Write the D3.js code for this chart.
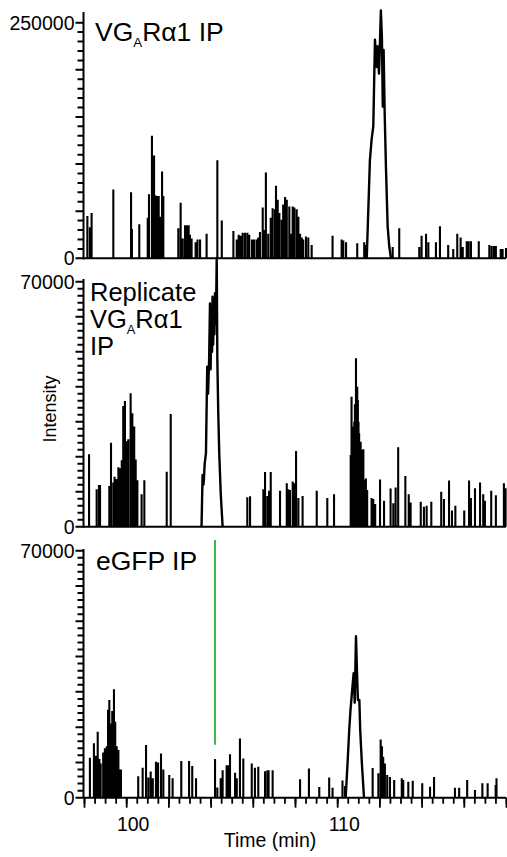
<!DOCTYPE html>
<html>
<head>
<meta charset="utf-8">
<script src="https://cdn.jsdelivr.net/npm/d3@7"></script>
<style>
  body { margin: 0; background: #fff; }
  text { font-family: "Liberation Sans", Arial, Helvetica, sans-serif; fill: #000; }
</style>
</head>
<body>
<svg id="chart"></svg>
<script>
// time axis (min)
const timeDomain = [98, 118]
const timeLabels = [100, 110]

// VGARa1 IP: isolated spikes [time, intensity] and the main peak trace
const topSpikes = [
  [98.16,45000],[98.28,33000],[98.36,48000],[99.39,73000],[100.23,70000],[100.27,31000],[100.62,36000],
  [101.02,43000],[101.08,68000],[101.22,130000],[101.32,109000],[101.38,67000],[101.45,66000],[101.54,66000],
  [101.60,44000],[101.70,92000],[101.76,66000],[102.47,32000],[102.58,59000],[102.68,21000],[102.79,35000],
  [102.87,35000],[102.96,35000],[103.02,25000],[103.10,21000],[103.29,17000],[103.38,20000],[103.50,20000],
  [103.81,26000],[104.32,104000],[104.53,40000],[105.08,29000],[105.24,20000],[105.33,25000],[105.43,24000],
  [105.52,27000],[105.63,27000],[105.74,27000],[105.83,25000],[105.96,20000],[106.06,20000],[106.18,20000],
  [106.26,22000],[106.34,28000],[106.47,54000],[106.53,30000],[106.62,91000],[106.73,26000],[106.85,43000],
  [106.94,53000],[107.05,52000],[107.10,77000],[107.18,62000],[107.26,48000],[107.37,41000],[107.44,57000],
  [107.53,65000],[107.61,62000],[107.73,55000],[107.79,26000],[107.89,55000],[107.97,54000],[108.08,52000],
  [108.16,44000],[108.24,26000],[108.32,22000],[108.39,20000],[108.52,23000],[108.63,22000],[108.79,14000],
  [109.78,24000],[110.21,20000],[110.29,19000],[110.42,17000],[110.95,16000],[111.28,17000],[111.36,14000],
  [112.63,12000],[112.94,32000],[113.89,12000],[114.00,24000],[114.21,26000],[114.32,17000],[114.68,17000],
  [114.87,34000],[115.26,14000],[115.50,10000],[115.69,26000],[115.85,22000],[115.95,12000],[116.14,18000],
  [116.23,18000],[116.34,18000],[116.71,18000],[117.21,14000],[117.32,13000],[117.43,13000],[117.52,13000],
  [117.75,10000],[117.84,10000],[118.00,11000]
]
const topPeak = [
  [111.40,0],[111.49,62000],[111.55,104000],[111.63,126000],[111.71,140000],[111.79,232000],[111.87,203000],
  [111.91,225000],[111.98,196000],[112.03,232000],[112.07,263000],[112.12,233000],[112.16,161000],
  [112.20,221000],[112.25,154000],[112.31,97000],[112.39,34000],[112.47,12000],[112.55,0]
]

// Replicate VGARa1 IP
const repSpikes = [
  [98.24,20700],[98.60,10700],[98.71,11900],[98.76,11900],[99.20,11600],[99.28,24000],[99.39,12600],
  [99.45,14300],[99.55,13600],[99.63,17000],[99.71,16700],[99.79,19000],[99.86,34500],[99.94,35900],
  [100.02,24400],[100.10,25000],[100.21,38100],[100.29,32400],[100.38,28600],[100.45,19200],[100.53,13300],
  [100.73,9300],[100.86,13300],[101.92,15700],[102.11,32200],[105.74,8400],[105.87,8700],[106.50,10700],
  [106.58,15600],[106.69,8800],[106.77,10300],[106.85,15600],[107.29,10300],[107.61,12400],[107.68,10700],
  [107.76,10500],[107.89,12900],[107.97,12400],[108.05,21600],[108.16,8200],[108.36,8800],[109.03,10300],
  [109.53,8200],[109.85,9300],[110.64,20500],[110.68,37100],[110.71,24000],[110.76,28600],[110.81,30000],
  [110.84,35000],[110.89,48100],[110.92,30000],[110.95,40000],[110.98,36200],[111.01,30000],[111.04,26700],
  [111.08,22000],[111.11,24300],[111.17,22000],[111.24,22100],[111.30,13300],[111.36,13800],[111.42,10500],
  [111.63,8200],[111.71,7900],[111.80,6500],[112.03,13500],[112.22,7400],[112.53,10900],[112.66,6700],
  [112.77,11200],[112.89,22700],[113.23,14500],[113.39,9300],[113.48,6900],[113.96,7100],[114.11,5700],
  [114.24,6000],[114.46,7100],[114.93,10000],[115.06,7900],[115.30,13200],[115.44,4600],[115.60,6000],
  [116.02,4600],[116.25,13200],[116.34,8200],[116.53,11000],[116.77,12600],[116.92,9300],[117.00,7400],
  [117.30,10300],[117.52,9000],[117.90,12400],[117.98,11000]
]
const repPeak = [
  [103.57,0],[103.62,14800],[103.66,12000],[103.68,13300],[103.72,18000],[103.78,21000],[103.84,45700],
  [103.88,38000],[103.93,47600],[103.97,63800],[104.00,45000],[104.05,61900],[104.07,50000],[104.09,65700],
  [104.12,52000],[104.16,62900],[104.18,55000],[104.21,66700],[104.25,58000],[104.29,76800],[104.32,47600],
  [104.36,33300],[104.41,21000],[104.48,9500],[104.57,0]
]

// eGFP IP
const gfpSpikes = [
  [98.28,11300],[98.47,15400],[98.55,11900],[98.65,18700],[98.73,11000],[98.79,9700],[98.91,12800],
  [98.99,14000],[99.08,14600],[99.14,24900],[99.20,27700],[99.28,21000],[99.34,24600],[99.42,30700],
  [99.48,21500],[99.55,14600],[99.63,13500],[99.71,8000],[99.75,8000],[100.57,6100],[100.78,8500],
  [100.94,14900],[101.05,5700],[101.16,7400],[101.26,5500],[101.41,10200],[101.51,10000],[101.65,12500],
  [101.76,8000],[102.04,6400],[102.20,5500],[102.61,10400],[102.98,10400],[103.13,9000],[103.31,5500],
  [104.21,11000],[104.32,2900],[104.48,5500],[104.57,7800],[104.76,9200],[104.84,9200],[104.92,12300],
  [105.16,7100],[105.24,5500],[105.39,16800],[105.55,11100],[105.95,9700],[106.10,8500],[106.26,8800],
  [106.58,7500],[106.69,7800],[106.75,7800],[106.94,7800],[108.24,5200],[108.66,8300],[109.15,3000],
  [109.62,5700],[109.78,2800],[110.25,4900],[110.37,3300],[111.68,8400],[111.95,6900],[112.06,16500],
  [112.12,14600],[112.18,11600],[112.26,9700],[112.37,6400],[112.50,5900],[112.70,5000],[113.06,5500],
  [113.13,5000],[113.37,4500],[113.58,4800],[114.03,4100],[114.40,3100],[114.59,5900],[115.58,2800],
  [115.78,2800],[116.16,5000],[116.53,2200],[116.88,4100],[117.13,4100],[117.51,3600],[117.55,5500]
]
const gfpPeak = [
  [110.40,0],[110.49,9700],[110.57,19200],[110.63,24900],[110.71,30500],[110.78,35300],[110.83,26900],
  [110.89,45800],[110.94,35300],[110.98,27700],[111.05,27700],[111.09,19200],[111.17,9700],[111.27,0]
]
// green marker in the eGFP panel
const markerTime = 104.21
const markerRange = [15000, 73000]

const width = 507, height = 857
const axisX = 83.5

const svg = d3.select("#chart")
  .attr("width", width)
  .attr("height", height)

const x = d3.scaleLinear().domain(timeDomain).range([84, 506])

const panels = [
  {max: 250000, major: 50000, minor: 10000, y0: 258.3, y1: 22.7, axisTop: 12, spikes: topSpikes, peak: topPeak},
  {max: 70000, major: 10000, minor: 2000, y0: 526.7, y1: 281.7, axisTop: 279, spikes: repSpikes, peak: repPeak},
  {max: 70000, major: 10000, minor: 2000, y0: 797.7, y1: 550.7, axisTop: 549, spikes: gfpSpikes, peak: gfpPeak}
]

panels.forEach(function(p) {
  const y = d3.scaleLinear().domain([0, p.max]).range([p.y0, p.y1])
  p.y = y
  const g = svg.append("g")

  // traces
  g.append("path")
    .attr("d", p.spikes.map(d => `M${x(d[0])},${y(0)}V${y(d[1])}`).join(""))
    .attr("fill", "none")
    .attr("stroke", "#000")
    .attr("stroke-width", 2.1)

  g.append("path")
    .datum(p.peak)
    .attr("d", d3.line().x(d => x(d[0])).y(d => y(d[1])))
    .attr("fill", "none")
    .attr("stroke", "#000")
    .attr("stroke-width", 2.4)
    .attr("stroke-linejoin", "round")

  // baseline
  g.append("line")
    .attr("x1", 83).attr("x2", 506)
    .attr("y1", y(0)).attr("y2", y(0))
    .attr("stroke", "#000").attr("stroke-width", 2)

  // y ticks: minor every p.minor, longer every p.major
  const ticks = d3.range(0, p.max + 1, p.minor)
  g.append("path")
    .attr("d", ticks.map(d => `M${d % p.major === 0 ? axisX - 8 : axisX - 6},${y(d)}H${axisX}`).join(""))
    .attr("fill", "none")
    .attr("stroke", "#000")
    .attr("stroke-width", 2)

  g.selectAll(".ylab")
    .data([0, p.max])
    .join("text")
    .attr("class", "ylab")
    .attr("x", axisX - 9)
    .attr("y", d => y(d))
    .attr("dy", "0.35em")
    .attr("text-anchor", "end")
    .attr("font-size", 19.5)
    .text(d => d3.format("d")(d))

  g.append("line")
    .attr("x1", axisX).attr("x2", axisX)
    .attr("y1", p.axisTop).attr("y2", y(0) + 1)
    .attr("stroke", "#000").attr("stroke-width", 2)
})

// x axis on the bottom panel
const bottomY = panels[2].y0
const xMinor = d3.axisBottom(x).tickValues(d3.range(98, 118.01, 0.5)).tickSize(6).tickSizeOuter(0).tickFormat("")
const xMajor = d3.axisBottom(x).tickValues(d3.range(98, 118.01, 2)).tickSize(10).tickSizeOuter(0).tickFormat("")
;[xMinor, xMajor].forEach(function(ax) {
  const a = svg.append("g").attr("transform", `translate(0,${bottomY})`).call(ax)
  a.select(".domain").remove()
  a.selectAll("line").attr("stroke", "#000").attr("stroke-width", 1.8)
})
svg.selectAll(".xlab")
  .data(timeLabels)
  .join("text")
  .attr("class", "xlab")
  .attr("x", d => x(d) + 7)
  .attr("y", bottomY + 33)
  .attr("text-anchor", "middle")
  .attr("font-size", 19.5)
  .text(d => d)

svg.append("text")
  .attr("x", 270).attr("y", 847)
  .attr("text-anchor", "middle")
  .attr("font-size", 19.5)
  .text("Time (min)")

svg.append("text")
  .attr("transform", "translate(56,409) rotate(-90)")
  .attr("text-anchor", "middle")
  .attr("font-size", 18)
  .text("Intensity")

// green marker line
svg.append("line")
  .attr("x1", x(markerTime)).attr("x2", x(markerTime))
  .attr("y1", panels[2].y(markerRange[0])).attr("y2", panels[2].y(markerRange[1]))
  .attr("stroke", "#3cb54a").attr("stroke-width", 2)

// panel titles
function vgar(sel, size) {
  sel.append("tspan").text("VG")
  sel.append("tspan").attr("font-size", size * 0.5).attr("dy", size * 0.24).text("A")
  sel.append("tspan").attr("dy", -size * 0.24).text("R\u03b11")
}

const t1 = svg.append("text").attr("x", 95).attr("y", 41).attr("font-size", 26.5)
vgar(t1, 26.5)
t1.append("tspan").text(" IP")

// stacked title of the middle panel, one text with three lines
const t2 = svg.append("text").attr("font-size", 25.5)
t2.append("tspan").attr("x", 90).attr("y", 301).text("Replicate")
t2.append("tspan").attr("x", 90).attr("y", 328).text("VG")
t2.append("tspan").attr("font-size", 12.75).attr("dy", 6).text("A")
t2.append("tspan").attr("dy", -6).text("R\u03b11")
t2.append("tspan").attr("x", 90).attr("y", 355).text("IP")

svg.append("text").attr("x", 96).attr("y", 570).attr("font-size", 26.5).text("eGFP IP")
</script>
</body>
</html>
